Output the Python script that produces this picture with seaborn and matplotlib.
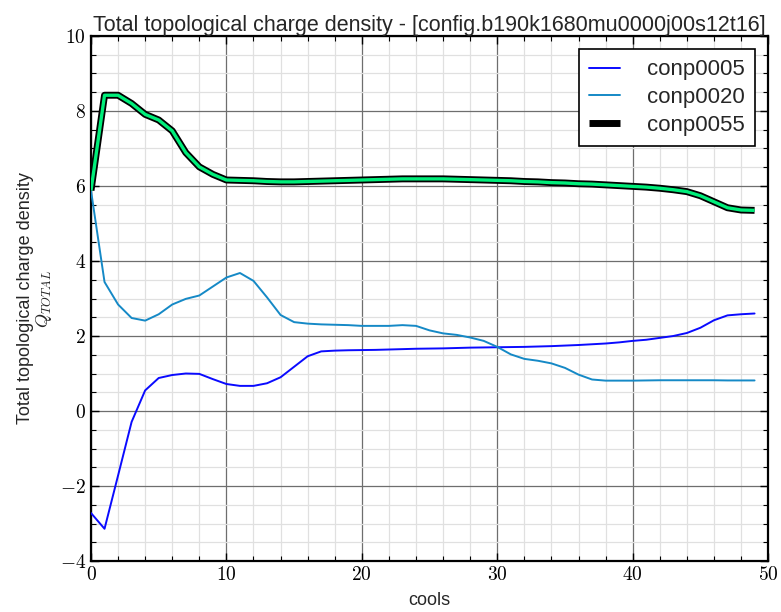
import numpy as np
import pandas as pd
import matplotlib
matplotlib.use("Agg")
import matplotlib.pyplot as plt
from matplotlib.ticker import MultipleLocator, FuncFormatter
import seaborn as sns

# ---- data ----
cools = list(range(50))

conp0005 = [-2.72, -3.14, -1.72, -0.29, 0.55, 0.88, 0.96, 1.00, 0.99, 0.85,
             0.72, 0.67, 0.67, 0.74, 0.90, 1.18, 1.46, 1.59, 1.61, 1.62,
             1.625, 1.63, 1.64, 1.65, 1.66, 1.665, 1.67, 1.68, 1.69, 1.695,
             1.70, 1.705, 1.71, 1.72, 1.73, 1.745, 1.76, 1.78, 1.80, 1.83,
             1.87, 1.90, 1.95, 2.00, 2.08, 2.22, 2.42, 2.55, 2.58, 2.60]

conp0020 = [5.88, 3.44, 2.84, 2.48, 2.41, 2.58, 2.84, 2.99, 3.08, 3.32,
            3.56, 3.68, 3.47, 3.03, 2.56, 2.37, 2.33, 2.31, 2.30, 2.29,
            2.27, 2.27, 2.27, 2.29, 2.27, 2.15, 2.07, 2.03, 1.96, 1.87,
            1.71, 1.51, 1.39, 1.34, 1.27, 1.15, 0.97, 0.84, 0.81, 0.81,
            0.81, 0.815, 0.82, 0.82, 0.82, 0.82, 0.82, 0.815, 0.815, 0.815]

conp0055 = [5.88, 8.42, 8.42, 8.20, 7.91, 7.76, 7.47, 6.89, 6.51, 6.31,
            6.16, 6.15, 6.14, 6.12, 6.11, 6.11, 6.12, 6.13, 6.14, 6.15,
            6.16, 6.17, 6.18, 6.19, 6.19, 6.19, 6.19, 6.18, 6.17, 6.16,
            6.15, 6.14, 6.12, 6.11, 6.09, 6.08, 6.06, 6.05, 6.03, 6.01,
            5.99, 5.97, 5.94, 5.90, 5.85, 5.74, 5.58, 5.42, 5.36, 5.35]

series_names = ["conp0005", "conp0020", "conp0055"]
title = "Total topological charge density - [config.b190k1680mu0000j00s12t16]"
xlabel = "cools"
ylabel = "Total topological charge density\n$Q_{TOTAL}$"

# ---- style ----
sns.set_theme(style="white")
plt.rcParams["font.family"] = ["Liberation Sans", "DejaVu Sans"]
plt.rcParams["mathtext.fontset"] = "cm"

fig = plt.figure(figsize=(7.81, 6.12), dpi=100)
ax = fig.add_axes([0.1165, 0.0833, 0.867, 0.8579])

c5 = "#0a0aff"
c20 = "#1589c6"
cgreen = "#00ee7a"

sns.lineplot(x=cools, y=conp0005, ax=ax, color=c5, lw=1.4, label=series_names[0], zorder=3)
sns.lineplot(x=cools, y=conp0020, ax=ax, color=c20, lw=1.4, label=series_names[1], zorder=3)
sns.lineplot(x=cools, y=conp0055, ax=ax, color="black", lw=5.0, label=series_names[2],
             zorder=4, solid_capstyle="butt")
sns.lineplot(x=cools, y=conp0055, ax=ax, color=cgreen, lw=2.4, legend=False, zorder=5,
             solid_capstyle="butt")

ax.set_xlim(0, 50)
ax.set_ylim(-4, 10)
ax.xaxis.set_major_locator(MultipleLocator(10))
ax.xaxis.set_minor_locator(MultipleLocator(2))
ax.yaxis.set_major_locator(MultipleLocator(2))
ax.yaxis.set_minor_locator(MultipleLocator(0.5))
fmt = FuncFormatter(lambda v, p: r"$%d$" % int(round(v)))
ax.xaxis.set_major_formatter(fmt)
ax.yaxis.set_major_formatter(fmt)

ax.grid(True, which="major", color="#6e6e6e", lw=0.9, zorder=0)
ax.grid(True, which="minor", color="#e0e0e0", lw=0.9, zorder=0)
ax.set_axisbelow(True)

ax.tick_params(which="both", direction="in", top=True, right=True, bottom=True, left=True,
               colors="black", labelsize=14)
ax.tick_params(which="major", length=6, width=1)
ax.tick_params(which="minor", length=3.5, width=0.8)
for s in ax.spines.values():
    s.set_color("black")
    s.set_linewidth(1.6)

ax.set_title(title, fontsize=15.5, pad=3)
ax.set_xlabel(xlabel, fontsize=13, labelpad=6)
ax.set_ylabel(ylabel, fontsize=13, labelpad=4, linespacing=1.0)

leg = ax.legend(loc="upper right", fontsize=16, frameon=True, fancybox=False,
                handlelength=1.4, borderpad=0.45, labelspacing=0.3, handletextpad=1.2,
                borderaxespad=0.6)
leg.get_frame().set_edgecolor("black")
leg.get_frame().set_linewidth(1.2)
leg.get_frame().set_alpha(1)

fig.savefig("out.png", dpi=100)
